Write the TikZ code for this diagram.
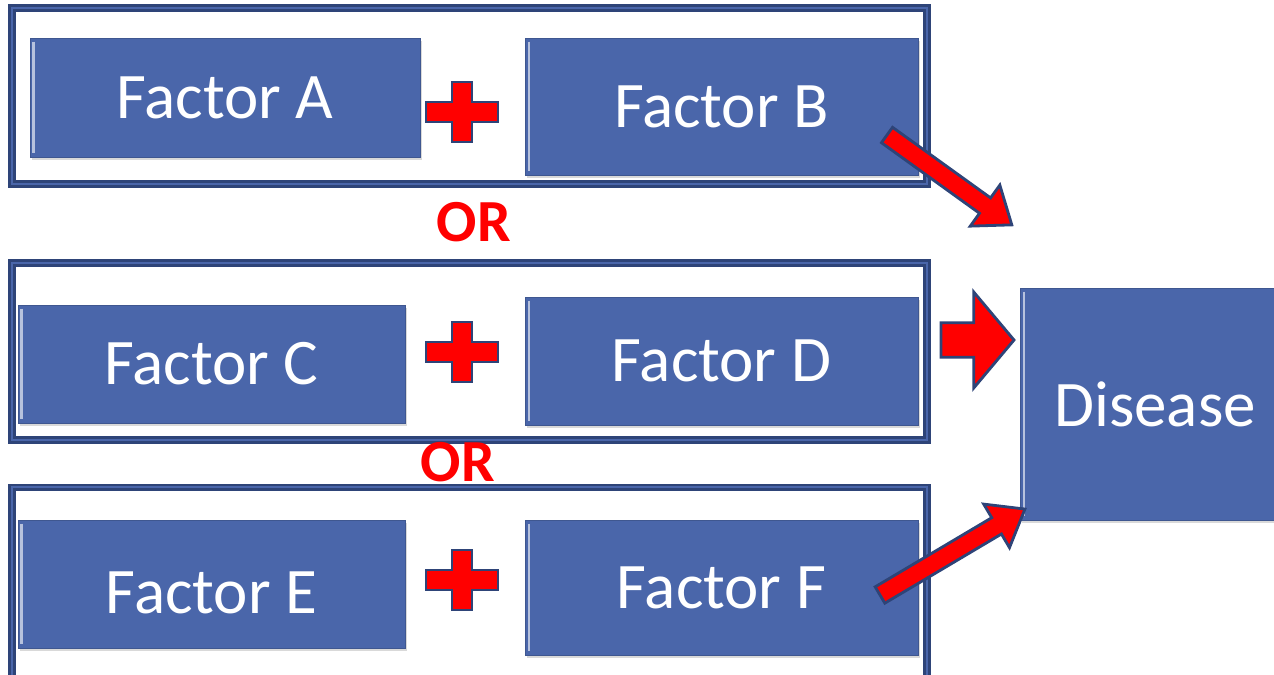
\documentclass[tikz,border=0pt]{standalone}
\usepackage{fontspec}
\setmainfont{Carlito}
\usetikzlibrary{shapes.arrows,calc,shadows}

\definecolor{boxblue}{RGB}{74,102,170}
\definecolor{framenavy}{RGB}{46,68,120}
\definecolor{signred}{RGB}{255,0,0}

\tikzset{
  factor/.style={fill=boxblue, draw=boxblue!85!black, line width=0.4pt,
    text=white, font=\fontsize{37}{40}\selectfont,
    drop shadow={opacity=0.3, shadow xshift=1pt, shadow yshift=-1.8pt},
    path picture={\draw[boxblue!40!white, line width=1.2pt]
      ([xshift=2pt,yshift=-2pt]path picture bounding box.north west) --
      ([xshift=2pt,yshift=2pt]path picture bounding box.south west);}},
  frame/.style={draw=framenavy, line width=1.4pt, double=boxblue, double distance=1.2pt},
  orlabel/.style={text=signred, font=\fontsize{34}{36}\selectfont\bfseries},
  fatarrow/.style={single arrow, fill=signred, draw=framenavy, line width=1.6pt,
    inner xsep=0pt, outer sep=0pt, anchor=tail},
  plus sign/.pic={
    \draw[fill=signred, draw=framenavy, line width=1.6pt]
      (-10,-30) -- (10,-30) -- (10,-10) -- (36,-10) -- (36,10) -- (10,10) --
      (10,30) -- (-10,30) -- (-10,10) -- (-36,10) -- (-36,-10) -- (-10,-10) -- cycle;}
}

% block arrow from #1 to #2, shaft half width #3, head extend #4, tip angle #5
\newcommand{\blockarrow}[5]{%
  \path let \p1=(#1), \p2=(#2), \n1={atan2(\y2-\y1,\x2-\x1)},
    \n2={veclen(\x2-\x1,\y2-\y1)} in
    node[fatarrow, minimum height=\n2, rotate=\n1, inner ysep=#3,
      single arrow head extend=#4, single arrow tip angle=#5] at (#1) {};}

\begin{document}
\begin{tikzpicture}[x=0.02cm, y=-0.02cm]
\useasboundingbox (0,0) rectangle (1274,674);
\clip (0,0) rectangle (1274,674);

% frames
\draw[frame] (12,8) rectangle (927,184);
\draw[frame] (12,263) rectangle (927,440);
\draw[frame] (12,487) rectangle (927,720);

% factors
\node[factor, minimum width=7.8cm, minimum height=2.38cm] (fa) at (225,97.5) {Factor A};
\node[factor, minimum width=7.86cm, minimum height=2.74cm] (fb) at (721.5,106.5) {Factor B};
\node[factor, minimum width=7.74cm, minimum height=2.36cm] (fc) at (211.5,364) {Factor C};
\node[factor, minimum width=7.86cm, minimum height=2.56cm] (fd) at (721.5,361) {Factor D};
\node[factor, minimum width=7.74cm, minimum height=2.56cm, text height=1.17cm, text depth=0pt] (fe) at (211.5,584) {Factor E};
\node[factor, minimum width=7.86cm, minimum height=2.7cm] (ff) at (721.5,587.5) {Factor F};
\node[factor, minimum width=5.4cm, minimum height=4.64cm] (dis) at (1155,404) {Disease};

% plus signs
\pic at (462,112) {plus sign};
\pic at (462,352) {plus sign};
\pic at (462,580) {plus sign};

\node[orlabel] (or1) at (474,222) {OR};
\node[orlabel] (or2) at (458,462) {OR};

% arrows into disease
\coordinate (tb) at (887,135);
\coordinate (hb) at (1012,225);
\coordinate (td) at (941,340);
\coordinate (hd) at (1014,340);
\coordinate (tf) at (880,595);
\coordinate (hf) at (1025,509);
\blockarrow{tb}{hb}{4.6pt}{9pt}{75}
\blockarrow{td}{hd}{9pt}{17.5pt}{100}
\blockarrow{tf}{hf}{4.6pt}{9pt}{75}
\end{tikzpicture}
\end{document}
